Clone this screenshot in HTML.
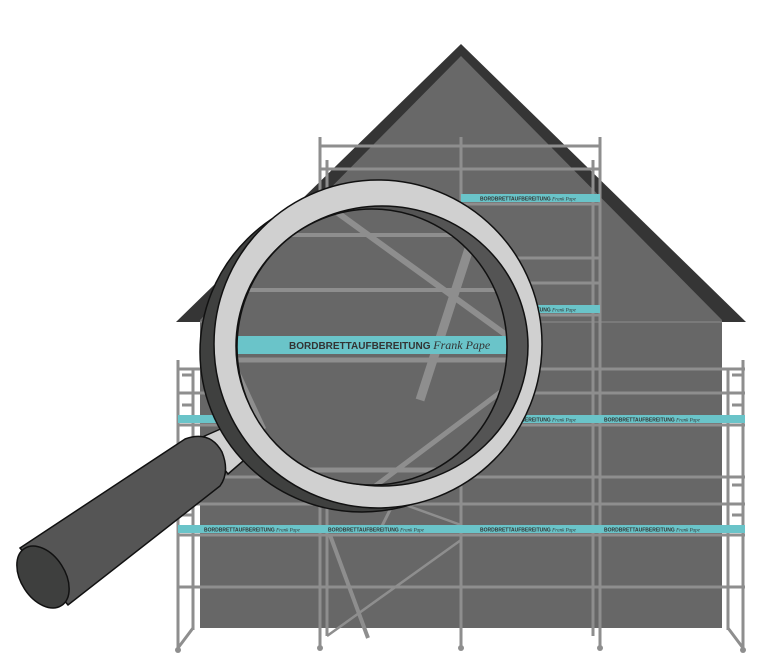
<!DOCTYPE html>
<html><head><meta charset="utf-8"><style>
html,body{margin:0;padding:0;background:#fff;width:768px;height:662px;overflow:hidden}
svg{display:block}
text{font-family:"Liberation Sans",sans-serif;font-weight:bold;fill:#333}
.s{font-family:"Liberation Serif",serif;font-style:italic;font-weight:normal}
</style></head><body>
<svg width="768" height="662" viewBox="0 0 768 662" xmlns="http://www.w3.org/2000/svg">
<polygon points="461,44 746,322 176,322" fill="#353535"/>
<polygon points="461,56 722,320 200,320" fill="#686868"/>
<rect x="200" y="320" width="522" height="308" fill="#676767"/>
<line x1="200" y1="322" x2="722" y2="322" stroke="#7a7a7a" stroke-width="2"/>
<g stroke="#8e8e8e" stroke-width="3" fill="none">
<line x1="320" y1="146" x2="600" y2="146"/>
<line x1="320" y1="169" x2="600" y2="169"/>
<line x1="320" y1="204" x2="600" y2="204"/>
<line x1="320" y1="258" x2="600" y2="258"/>
<line x1="320" y1="283" x2="600" y2="283"/>
<line x1="320" y1="315" x2="600" y2="315"/>
<line x1="178" y1="369" x2="745" y2="369"/>
<line x1="178" y1="393" x2="745" y2="393"/>
<line x1="178" y1="425" x2="745" y2="425"/>
<line x1="178" y1="477" x2="745" y2="477"/>
<line x1="178" y1="504" x2="745" y2="504"/>
<line x1="178" y1="535" x2="745" y2="535"/>
<line x1="178" y1="587" x2="745" y2="587"/>
<line x1="178" y1="360" x2="178" y2="650"/>
<line x1="193" y1="370" x2="193" y2="630"/>
<line x1="320" y1="137" x2="320" y2="648"/>
<line x1="327" y1="160" x2="327" y2="636"/>
<line x1="461" y1="137" x2="461" y2="648"/>
<line x1="600" y1="137" x2="600" y2="648"/>
<line x1="593" y1="160" x2="593" y2="636"/>
<line x1="728" y1="370" x2="728" y2="630"/>
<line x1="743" y1="360" x2="743" y2="650"/>
<path d="M182 375 h10 M182 405 h10 M182 480 h10 M182 515 h10 M732 375 h10 M732 405 h10 M732 485 h10 M732 515 h10"/>
<line x1="193" y1="628" x2="178" y2="648"/>
<line x1="728" y1="628" x2="743" y2="648"/>
<line x1="461" y1="540" x2="327" y2="636" stroke-width="2.5"/>
<line x1="461" y1="525" x2="400" y2="503" stroke-width="2.5"/>
<line x1="330" y1="535" x2="368" y2="638" stroke-width="4"/>
<line x1="380" y1="530" x2="395" y2="500" stroke-width="3"/>
</g>
<g fill="#8e8e8e"><circle cx="320" cy="648" r="3"/><circle cx="461" cy="648" r="3"/><circle cx="600" cy="648" r="3"/><circle cx="178" cy="650" r="3"/><circle cx="743" cy="650" r="3"/></g>
<g fill="#6ac4c9">
<rect x="461" y="194" width="139" height="8"/>
<rect x="461" y="305" width="139" height="8"/>
<rect x="178" y="415" width="567" height="8"/>
<rect x="178" y="525" width="567" height="8"/>
</g>
<g font-size="5">
<text x="480" y="200.5">BORDBRETTAUFBEREITUNG <tspan class="s">Frank Pape</tspan></text>
<text x="480" y="311.5">BORDBRETTAUFBEREITUNG <tspan class="s">Frank Pape</tspan></text>
<text x="480" y="421.5">BORDBRETTAUFBEREITUNG <tspan class="s">Frank Pape</tspan></text>
<text x="604" y="421.5">BORDBRETTAUFBEREITUNG <tspan class="s">Frank Pape</tspan></text>
<text x="204" y="531.5">BORDBRETTAUFBEREITUNG <tspan class="s">Frank Pape</tspan></text>
<text x="328" y="531.5">BORDBRETTAUFBEREITUNG <tspan class="s">Frank Pape</tspan></text>
<text x="480" y="531.5">BORDBRETTAUFBEREITUNG <tspan class="s">Frank Pape</tspan></text>
<text x="604" y="531.5">BORDBRETTAUFBEREITUNG <tspan class="s">Frank Pape</tspan></text>
</g>
<!-- handle -->
<path d="M200,438 L232,424 Q252,428 250,455 L228,474 Z" fill="#d0d0d0" stroke="#111" stroke-width="1.5"/>
<path d="M20,548 L185,439 Q210,430 222,452 Q230,472 220,486 L68,605 Z" fill="#555" stroke="#111" stroke-width="1.5"/>
<ellipse cx="43" cy="577" rx="22" ry="34" transform="rotate(-33 43 577)" fill="#3e3f3e" stroke="#111" stroke-width="1.5"/>
<!-- ring -->
<ellipse cx="362" cy="352" rx="162" ry="160" fill="#3f403f" stroke="#111" stroke-width="1.5"/>
<ellipse cx="378" cy="344" rx="164" ry="164" fill="#d0d0d0" stroke="#111" stroke-width="1.5"/>
<ellipse cx="382" cy="346" rx="146" ry="140" fill="#545454" stroke="#111" stroke-width="1.5"/>
<clipPath id="lens"><ellipse cx="372" cy="347" rx="135" ry="138"/></clipPath>
<g clip-path="url(#lens)">
<rect x="200" y="180" width="360" height="340" fill="#676767"/>
<g stroke="#8e8e8e" fill="none">
<line x1="200" y1="235" x2="560" y2="235" stroke-width="4"/>
<line x1="200" y1="290" x2="560" y2="290" stroke-width="4"/>
<line x1="200" y1="360" x2="560" y2="360" stroke-width="5"/>
<line x1="200" y1="470" x2="560" y2="470" stroke-width="5"/>
<line x1="320" y1="200" x2="520" y2="345" stroke-width="6"/>
<line x1="475" y1="230" x2="420" y2="400" stroke-width="9"/>
<line x1="530" y1="370" x2="330" y2="520" stroke-width="5"/>
<line x1="232" y1="365" x2="262" y2="430" stroke-width="9"/>
</g>
<rect x="200" y="336" width="310" height="18" fill="#6ac4c9"/>
<text x="289" y="349" font-size="10">BORDBRETTAUFBEREITUNG <tspan class="s" font-size="12">Frank Pape</tspan></text>
</g>
<ellipse cx="372" cy="347" rx="135" ry="138" fill="none" stroke="#111" stroke-width="1.5"/>
</svg>
</body></html>
